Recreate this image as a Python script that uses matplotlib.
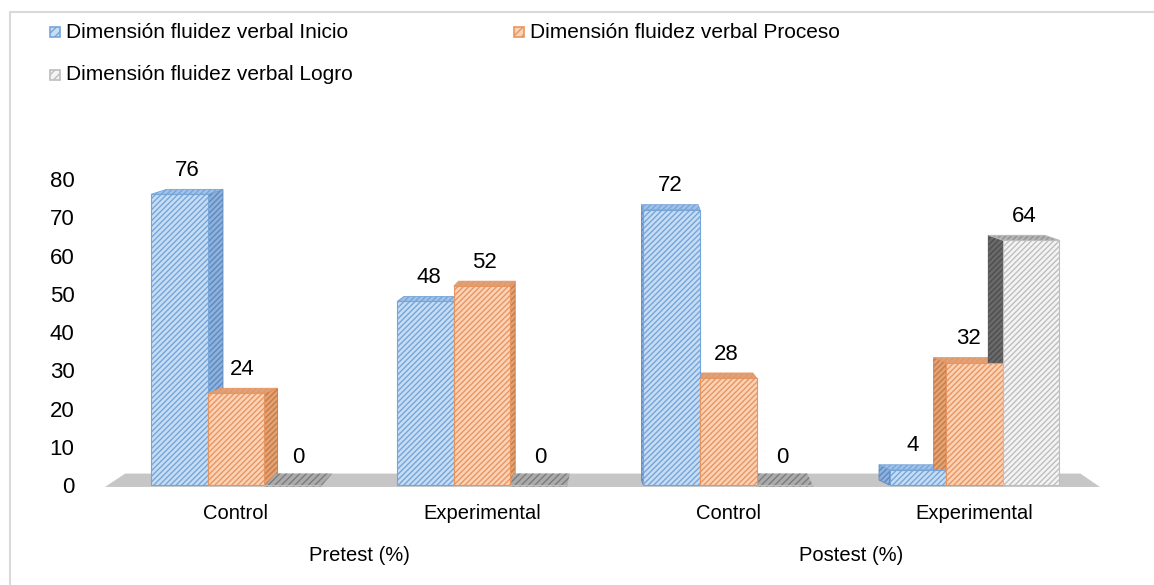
import numpy as np
import matplotlib
matplotlib.use("Agg")
import matplotlib.pyplot as plt
from matplotlib.patches import Polygon, Rectangle

plt.rcParams['font.family'] = ['Liberation Sans', 'DejaVu Sans']
plt.rcParams['hatch.linewidth'] = 1.0

# Data
groups = ['Control', 'Experimental', 'Control', 'Experimental']
phases = ['Pretest (%)', 'Postest (%)']
series = ['Dimensión fluidez verbal Inicio',
          'Dimensión fluidez verbal Proceso',
          'Dimensión fluidez verbal Logro']
inicio = [76, 48, 72, 4]
proceso = [24, 52, 28, 32]
logro = [0, 0, 0, 64]
values = [inicio, proceso, logro]

# front fill, hatch/edge, side fill, side hatch, top fill
styles = [
    ('#C6DDF4', '#76A5DA', '#8FB2DC', '#5D89C0', '#A3C2E6'),
    ('#FBD3B6', '#E99560', '#E3A374', '#C67A48', '#D9A47E'),
    ('#F4F4F4', '#BEBEBE', '#6A6A6A', '#4E4E4E', '#9C9C9C'),
]

W, H = 1154, 585
fig = plt.figure(figsize=(W / 100, H / 100), dpi=100)

# outer border (chart area frame)
fig.patches.append(Rectangle((10 / W, -0.05), 1.2, 1 - 12 / H + 0.05,
                             transform=fig.transFigure, fill=False,
                             edgecolor='#DADADA', linewidth=1.5))

ax = fig.add_axes([105 / W, 1 - 492.7 / H, 995 / W, 321.3 / H])
ax.set_xlim(-0.532, 3.51)
ax.set_ylim(-2, 82)
for s in ax.spines.values():
    s.set_visible(False)

# floor
floor = Polygon([(-0.532, -0.5), (-0.45, 3), (3.43, 3), (3.51, -0.5)],
                closed=True, facecolor='#C6C6C6', edgecolor='none', zorder=1)
ax.add_patch(floor)

x = np.arange(len(groups))
w = 0.23
xc = 1.55
k = 0.035
dy = 1.3

for i, vals in enumerate(values):
    front, hatchc, side, sideh, top = styles[i]
    pos = x + (i - 1) * w
    for xp, v in zip(pos, vals):
        d = k * (xc - xp)
        xl, xr = xp - w / 2, xp + w / 2
        xe = xr if d > 0 else xl
        if v > 0:
            # side face
            ax.add_patch(Polygon([(xe, 0), (xe + d, dy), (xe + d, v + dy), (xe, v)],
                                 closed=True, facecolor=side, edgecolor=sideh,
                                 hatch='//////', linewidth=0.6, zorder=2))
            # top face
            ax.add_patch(Polygon([(xl, v), (xr, v), (xr + d, v + dy), (xl + d, v + dy)],
                                 closed=True, facecolor=top, edgecolor=hatchc,
                                 hatch='//////', linewidth=0.6, zorder=2))
        else:
            # flat tile lying on the floor
            ax.add_patch(Polygon([(xl, -0.4), (xr, -0.4), (xr + d, 3), (xl + d, 3)],
                                 closed=True, facecolor='#ABABAB', edgecolor='#7C7C7C',
                                 hatch='/////', linewidth=0, zorder=2))
        ax.annotate(str(v), (xp + d / 2, v + dy), xytext=(0, 6 if v > 0 else 9),
                    textcoords='offset points', ha='center', va='bottom',
                    fontsize=16, zorder=5)
    ax.bar(pos, vals, width=w, color=front, edgecolor=hatchc,
           hatch='//////', linewidth=0.8, zorder=3)

ax.set_yticks(range(0, 81, 10))
ax.set_xticks(x)
ax.set_xticklabels(groups, fontsize=14.5)
ax.tick_params(axis='y', length=0, pad=22, labelsize=16)
ax.tick_params(axis='x', length=0, pad=8)

for j, ph in enumerate(phases):
    ax.text(x[2 * j:2 * j + 2].mean(), -0.197, ph, transform=ax.get_xaxis_transform(),
            ha='center', va='center', fontsize=14.5)

# legend
leg_pos = [(50, 32), (514, 32), (50, 75)]
for i, name in enumerate(series):
    px, py = leg_pos[i]
    fig.patches.append(Rectangle((px / W, 1 - (py + 5) / H), 10 / W, 10 / H,
                                 transform=fig.transFigure, facecolor=styles[i][0],
                                 edgecolor=styles[i][1], hatch='////', linewidth=1.2))
    fig.text((px + 16) / W, 1 - py / H, name, ha='left', va='center', fontsize=15)

fig.savefig('out.png', dpi=100)
